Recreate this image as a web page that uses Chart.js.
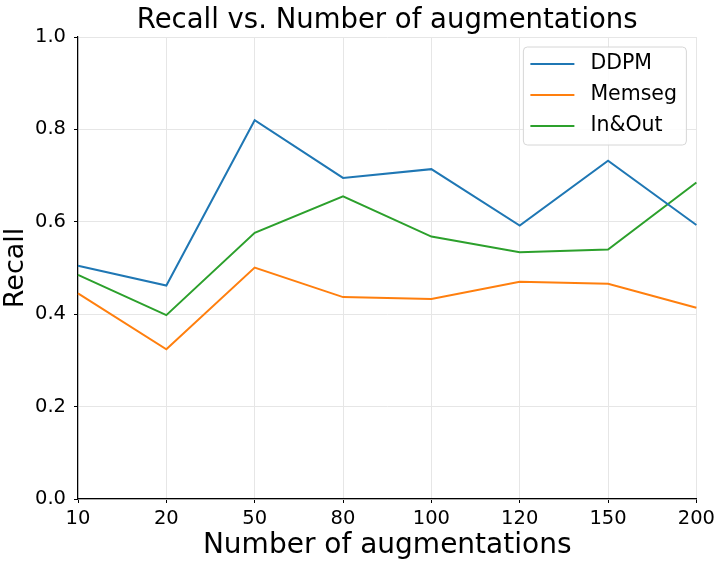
<!DOCTYPE html>
<html>
<head>
<meta charset="utf-8">
<script src="https://cdn.jsdelivr.net/npm/chart.js@4.4.1/dist/chart.umd.min.js"></script>
<style>
html,body{margin:0;padding:0;background:#fff;}
#wrap{width:719px;height:565px;position:relative;}
</style>
</head>
<body>
<div id="wrap"><canvas id="c" width="719" height="565"></canvas></div>
<script>
const categories = ['10', '20', '50', '80', '100', '120', '150', '200'];
const ddpm   = [0.505, 0.462, 0.820, 0.695, 0.714, 0.592, 0.732, 0.593];
const memseg = [0.445, 0.324, 0.501, 0.437, 0.433, 0.470, 0.466, 0.414];
const inout  = [0.485, 0.398, 0.576, 0.655, 0.568, 0.534, 0.540, 0.685];
const seriesNames = ['DDPM', 'Memseg', 'In&Out'];
const colors = ['#1f77b4', '#ff7f0e', '#2ca02c'];
const yTicks = [0.0, 0.2, 0.4, 0.6, 0.8, 1.0];

const FONT = "'DejaVu Sans', sans-serif";

const legendPlugin = {
  id: 'boxLegend',
  afterDatasetsDraw(chart) {
    const ctx = chart.ctx;
    const a = chart.chartArea;
    const w = 163, h = 98;
    const x = a.right - 10 - w, y = a.top + 10;
    ctx.save();
    ctx.beginPath();
    const r = 4;
    ctx.moveTo(x + r, y);
    ctx.lineTo(x + w - r, y);
    ctx.quadraticCurveTo(x + w, y, x + w, y + r);
    ctx.lineTo(x + w, y + h - r);
    ctx.quadraticCurveTo(x + w, y + h, x + w - r, y + h);
    ctx.lineTo(x + r, y + h);
    ctx.quadraticCurveTo(x, y + h, x, y + h - r);
    ctx.lineTo(x, y + r);
    ctx.quadraticCurveTo(x, y, x + r, y);
    ctx.closePath();
    ctx.fillStyle = 'rgba(255,255,255,0.85)';
    ctx.fill();
    ctx.strokeStyle = '#d6d6d6';
    ctx.lineWidth = 1;
    ctx.stroke();
    chart.data.datasets.forEach((ds, i) => {
      const cy = y + 17 + i * 31;
      ctx.beginPath();
      ctx.moveTo(x + 7, cy);
      ctx.lineTo(x + 51, cy);
      ctx.strokeStyle = ds.borderColor;
      ctx.lineWidth = 2;
      ctx.stroke();
      ctx.fillStyle = '#000';
      ctx.font = '20.5px ' + FONT;
      ctx.textBaseline = 'middle';
      ctx.textAlign = 'left';
      ctx.fillText(ds.label, x + 67, cy);
    });
    ctx.restore();
  }
};

new Chart(document.getElementById('c'), {
  type: 'line',
  data: {
    labels: categories,
    datasets: [
      { label: seriesNames[0], data: ddpm, borderColor: colors[0], backgroundColor: colors[0] },
      { label: seriesNames[1], data: memseg, borderColor: colors[1], backgroundColor: colors[1] },
      { label: seriesNames[2], data: inout, borderColor: colors[2], backgroundColor: colors[2] }
    ]
  },
  options: {
    responsive: false,
    animation: false,
    devicePixelRatio: 1,
    layout: { padding: { left: 0, right: 21, top: 0, bottom: 0 } },
    elements: {
      line: { borderWidth: 2, tension: 0, fill: false },
      point: { radius: 0, hoverRadius: 0 }
    },
    plugins: {
      legend: { display: false },
      tooltip: { enabled: false },
      title: {
        display: true,
        text: 'Recall vs. Number of augmentations',
        fullSize: false,
        color: '#000',
        font: { family: FONT, size: 27.5, weight: 'normal', lineHeight: 1.2 },
        padding: { top: 4, bottom: 0 }
      }
    },
    scales: {
      x: {
        type: 'category',
        offset: false,
        afterFit(scale) { scale.height = 66; },
        grid: { color: '#e6e6e6', lineWidth: 1, tickLength: 4, tickColor: '#000', drawTicks: true },
        border: { display: true, color: '#000', width: 1.2 },
        ticks: { color: '#000', font: { family: FONT, size: 19.5 }, padding: 4, maxRotation: 0, autoSkip: false },
        title: {
          display: true,
          text: 'Number of augmentations',
          color: '#000',
          font: { family: FONT, size: 28, lineHeight: 1.2 },
          padding: { top: 0, bottom: 2 }
        }
      },
      y: {
        type: 'linear',
        min: 0,
        max: 1,
        afterFit(scale) { scale.width = 78; },
        afterBuildTicks(scale) { scale.ticks = yTicks.map(v => ({ value: v })); },
        grid: { color: '#e6e6e6', lineWidth: 1, tickLength: 4, tickColor: '#000', drawTicks: true },
        border: { display: true, color: '#000', width: 1.2 },
        ticks: {
          color: '#000',
          font: { family: FONT, size: 19.5 },
          padding: 8,
          callback: (v) => Number(v).toFixed(1)
        },
        title: {
          display: true,
          text: 'Recall',
          color: '#000',
          font: { family: FONT, size: 27, lineHeight: 1.2 },
          padding: { top: 0, bottom: 0 }
        }
      }
    }
  },
  plugins: [legendPlugin]
});
</script>
</body>
</html>
